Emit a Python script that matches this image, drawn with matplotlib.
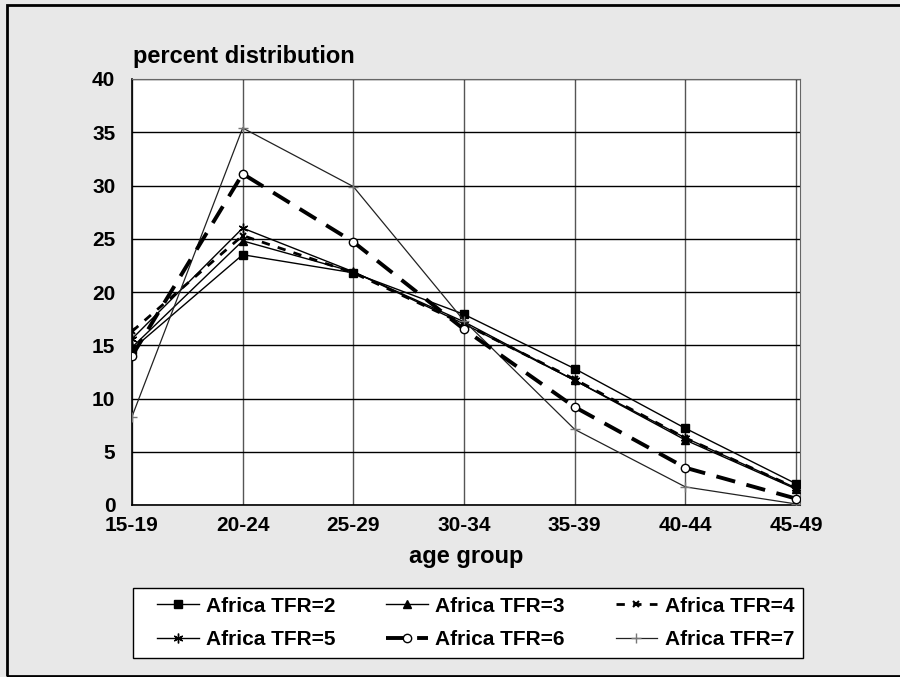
import matplotlib
matplotlib.use("Agg")
import matplotlib.pyplot as plt
from matplotlib.patches import Rectangle

age_groups = ["15-19", "20-24", "25-29", "30-34", "35-39", "40-44", "45-49"]
tfr2 = [14.6, 23.5, 21.8, 17.9, 12.8, 7.2, 2.0]
tfr3 = [14.8, 24.8, 21.9, 17.2, 11.7, 6.1, 1.5]
tfr4 = [16.3, 25.3, 21.8, 17.0, 11.8, 6.3, 1.6]
tfr5 = [15.6, 26.0, 21.9, 17.0, 11.7, 6.3, 1.6]
tfr6 = [14.0, 31.1, 24.7, 16.5, 9.2, 3.5, 0.6]
tfr7 = [8.3, 35.4, 29.9, 17.3, 7.1, 1.7, 0.1]
labels = ["Africa TFR=2", "Africa TFR=3", "Africa TFR=4",
          "Africa TFR=5", "Africa TFR=6", "Africa TFR=7"]

plt.rcParams['font.family'] = ['Liberation Sans', 'DejaVu Sans']
plt.rcParams['font.weight'] = 'bold'

fig = plt.figure(figsize=(9, 6.77), dpi=100)
fig.patch.set_facecolor('#e8e8e8')
# outer frame (right side runs off the picture)
fig.patches.append(Rectangle((7/900, 0.8/677), 1.2, 1 - 5.8/677, transform=fig.transFigure,
                             fill=False, edgecolor='black', linewidth=2, zorder=10))
# legend box
fig.patches.append(Rectangle((133/900, 1 - 658/677), 670/900, 70/677, transform=fig.transFigure,
                             facecolor='white', edgecolor='black', linewidth=1, zorder=1))

ax = fig.add_axes([132/900, 1 - 505/677, 668/900, 426/677])
ax.set_facecolor('white')
x = list(range(len(age_groups)))

h2, = ax.plot(x, tfr2, color='black', lw=1, marker='s', ms=6, label=labels[0], zorder=3)
h3, = ax.plot(x, tfr3, color='black', lw=1, marker='^', ms=6, label=labels[1], zorder=3)
h4, = ax.plot(x, tfr4, color='black', lw=2, ls=(0, (3, 3)), marker='x', ms=5, mew=1.5,
              label=labels[2], zorder=3)
h5, = ax.plot(x, tfr5, color='black', lw=1, marker=(6, 2, 0), ms=7, label=labels[3], zorder=3)
h6, = ax.plot(x, tfr6, color='black', lw=2.8, ls=(0, (5, 3)), marker='o', ms=6, mfc='white',
              mew=1, label=labels[4], zorder=4)
h7, = ax.plot(x, tfr7, color='#222222', lw=0.9, marker='+', ms=7, mec='#777777',
              label=labels[5], zorder=3)

ax.set_xlim(0, 6.036)
ax.set_ylim(0, 40)
ax.set_yticks(range(0, 41, 5))
ax.set_xticks(x)
ax.set_xticklabels(age_groups)
ax.tick_params(axis='x', length=0, labelsize=15, pad=8)
ax.tick_params(axis='y', length=0, labelsize=15, pad=12)
ax.grid(True, axis='y', color='black', lw=1)
ax.grid(True, axis='x', color='#555555', lw=1)
ax.set_axisbelow(True)
for s in ['top', 'right']:
    ax.spines[s].set_color('#666666')
for s in ['left', 'bottom']:
    ax.spines[s].set_color('black')
    ax.spines[s].set_linewidth(1.2)

ax.set_xlabel("age group", fontsize=17, fontweight='bold', labelpad=7)
fig.text(133/900, 1 - 56/677, "percent distribution", fontsize=17, fontweight='bold',
         ha='left', va='center')

order = [h2, h5, h3, h6, h4, h7]
leg = fig.legend(handles=order, labels=[h.get_label() for h in order],
                 loc='center left', bbox_to_anchor=(157/900, 1 - 623/677, 637/900, 0),
                 mode='expand', ncol=3, fontsize=15, frameon=False,
                 borderaxespad=0, borderpad=0, handlelength=2.0,
                 handletextpad=0.35, labelspacing=0.7, columnspacing=1.0)
leg.set_zorder(5)

fig.savefig("out.png", dpi=100, facecolor=fig.get_facecolor())
